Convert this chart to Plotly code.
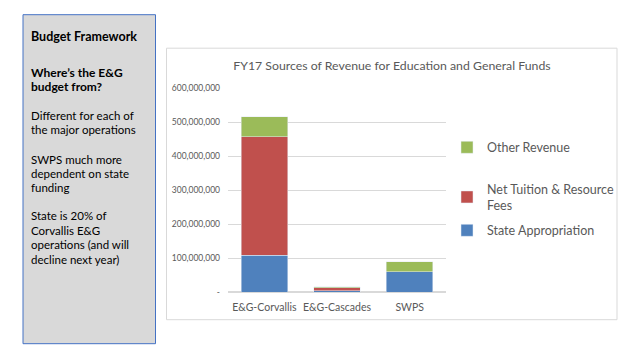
import plotly.graph_objects as go

categories = ["E&G-Corvallis", "E&G-Cascades", "SWPS"]
state_appropriation = [108_000_000, 3_000_000, 60_000_000]
net_tuition = [349_000_000, 9_000_000, 0]
other_revenue = [58_000_000, 4_000_000, 29_000_000]
tick_vals = [0, 100_000_000, 200_000_000, 300_000_000, 400_000_000, 500_000_000, 600_000_000]
tick_text = ["-", "100,000,000", "200,000,000", "300,000,000", "400,000,000", "500,000,000", "600,000,000"]

# page body has an 8px margin; work in screen coords and shift
OFF = 8
W, H = 640 - OFF, 360 - OFF
L, R, T, B = 228 - OFF, 446 - OFF, 88.3 - OFF, 292.3 - OFF

def px(x):
    return (x - OFF - L) / (R - L)

def py(y):
    return (B - (y - OFF)) / (B - T)

FONT = "Lato"
fig = go.Figure()
fig.add_bar(x=categories, y=state_appropriation, name="State Appropriation",
            marker_color="#4F81BD", legend="legend3")
fig.add_bar(x=categories, y=net_tuition, name="Net Tuition & Resource<br>Fees",
            marker_color="#C0504D", legend="legend2")
fig.add_bar(x=categories, y=other_revenue, name="Other Revenue",
            marker_color="#9BBB59", legend="legend")

leg_font = dict(size=12.5, color="#595959", family=FONT)
def leg(yc):
    return dict(x=px(447), y=py(yc), xanchor="left", yanchor="middle",
                font=leg_font, itemwidth=30, bgcolor="rgba(0,0,0,0)")

fig.update_layout(
    width=W, height=H, barmode="stack", bargap=0.36,
    paper_bgcolor="white", plot_bgcolor="white",
    margin=dict(l=L, r=W - R, t=T, b=H - B, pad=0),
    font=dict(family=FONT, color="#595959"),
    showlegend=True,
    legend=leg(148), legend2=leg(197.5), legend3=leg(231),
    title=dict(text="FY17 Sources of Revenue for Education and General Funds",
               x=px(392), xref="paper", xanchor="center",
               y=1 - (66 - OFF) / H, yref="container", yanchor="middle",
               font=dict(size=12.3, color="#595959", family=FONT)),
)
fig.update_yaxes(range=[0, 600_000_000], tickvals=tick_vals, ticktext=tick_text,
                 showgrid=True, gridcolor="#D9D9D9", gridwidth=1,
                 zeroline=True, zerolinecolor="#D9D9D9", automargin=False,
                 tickfont=dict(size=8.5, color="#595959", family=FONT),
                 ticks="", ticklabelstandoff=7)
fig.update_xaxes(showline=True, linecolor="#D9D9D9", ticks="", automargin=False,
                 tickangle=0, ticklabelstandoff=5,
                 tickfont=dict(size=10.5, color="#595959", family=FONT))

# chart frame
fig.add_shape(type="rect", xref="paper", yref="paper",
              x0=px(166.5), x1=px(617), y0=py(320), y1=py(48.5),
              line=dict(color="#D9D9D9", width=1), fillcolor="rgba(0,0,0,0)",
              layer="below")
# left text panel
fig.add_shape(type="rect", xref="paper", yref="paper",
              x0=px(23), x1=px(155.5), y0=py(344), y1=py(15),
              line=dict(color="#4472C4", width=1), fillcolor="#D9D9D9",
              layer="below")

panel = [
    ("<b>Budget Framework</b>", 36.7, 12.5),
    ("<b>Where’s the E&G</b>", 72.3, 12),
    ("<b>budget from?</b>", 86.9, 12),
    ("Different for each of", 115.3, 11.5),
    ("the major operations", 130, 11.5),
    ("SWPS much more", 159.3, 11.5),
    ("dependent on state", 174, 11.5),
    ("funding", 188, 11.5),
    ("State is 20% of", 216, 11.5),
    ("Corvallis E&G", 230.5, 11.5),
    ("operations (and will", 245, 11.5),
    ("decline next year)", 259.5, 11.5),
]
for txt, yy, fs in panel:
    fig.add_annotation(text=txt, xref="paper", yref="paper", x=px(28.5), y=py(yy),
                       xanchor="left", yanchor="middle", showarrow=False,
                       font=dict(size=fs, color="#000000", family=FONT))

fig.write_html("out.html")
